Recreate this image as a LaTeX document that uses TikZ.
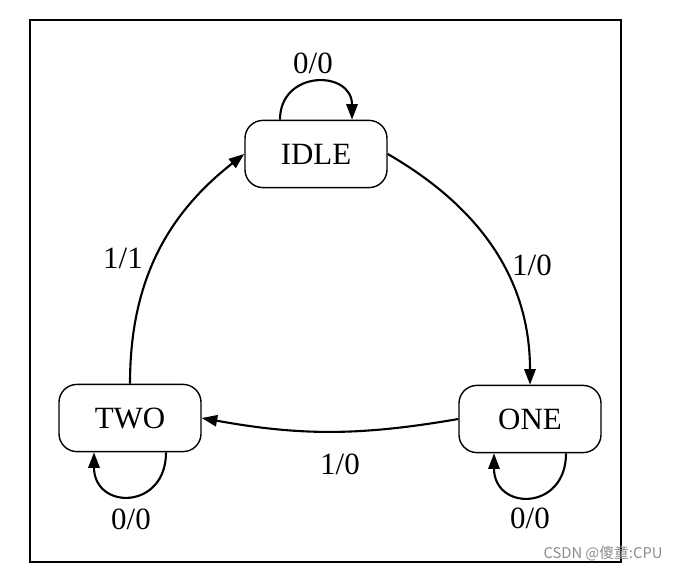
\documentclass[tikz,border=0pt]{standalone}
\usepackage{fontspec}
\setmainfont{Liberation Serif}
\newfontfamily\cjk{Noto Sans CJK SC}
\usepackage{tikz}
\usetikzlibrary{arrows.meta}

\begin{document}
\begin{tikzpicture}[
  x=0.025cm, y=0.025cm,
  state/.style={draw, line width=1pt, rounded corners=0.45cm, minimum width=3.55cm, minimum height=1.68cm, fill=white, font=\fontsize{22}{24}\selectfont},
  lbl/.style={font=\fontsize{22}{24}\selectfont},
  arr/.style={line width=1.5pt, -{Triangle[length=11pt,width=8pt]}}
]
\useasboundingbox (0,0) rectangle (681,-572);
\draw[line width=1.3pt] (30,-20) rectangle (621,-562);

\node[state] (idle) at (316,-154) {IDLE};
\node[state] (two) at (130,-418) {TWO};
\node[state] (one) at (530,-419) {ONE};

% transitions
\draw[arr] (idle.east) to[out=-30,in=90] (one.north);
\draw[arr] (one.west) to[bend left=10] (two.east);
\draw[arr] (two.north) to[out=90,in=218] (idle.west);

% self loops
\draw[arr] ([xshift=-0.9cm]idle.north) to[out=90,in=90,distance=1.25cm] ([xshift=0.9cm]idle.north);
\draw[arr] ([xshift=0.9cm]two.south) to[out=-90,in=-90,distance=1.45cm] ([xshift=-0.9cm]two.south);
\draw[arr] ([xshift=0.9cm]one.south) to[out=-90,in=-90,distance=1.45cm] ([xshift=-0.9cm]one.south);

% labels
\node[lbl] (l_idle) at (313,-63) {0/0};
\node[lbl] (l_two) at (131,-519) {0/0};
\node[lbl] (l_one) at (530,-518) {0/0};
\node[lbl] (l_io) at (532,-265) {1/0};
\node[lbl] (l_ot) at (340,-464) {1/0};
\node[lbl] (l_ti) at (123,-258) {1/1};

\node[font=\cjk\fontsize{10.5}{12}\selectfont, text=black!45] (mark) at (603,-553) {CSDN @傻童:CPU};
\end{tikzpicture}
\end{document}
